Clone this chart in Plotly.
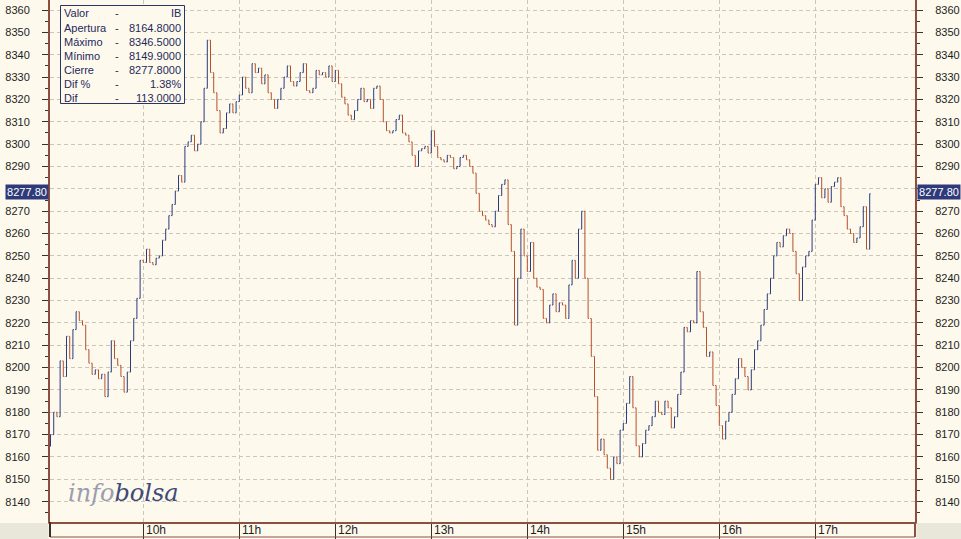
import plotly.graph_objects as go
import pandas as pd

# ---------------- data (2-minute closes) ----------------
first_open = 8164.8
closes_09h = [8170, 8180, 8178, 8203, 8196, 8214, 8204, 8217, 8225, 8221,
              8219, 8208, 8202, 8197, 8199, 8195, 8197, 8187, 8198, 8212,
              8204, 8201, 8196, 8189, 8198, 8212, 8222, 8231, 8248, 8247]
closes_10h = [8253, 8247, 8246, 8249, 8250, 8257, 8262, 8268, 8273, 8279,
              8286, 8283, 8299, 8301, 8304, 8297, 8300, 8310, 8325, 8346.5,
              8332, 8323, 8315, 8305, 8307, 8314, 8318, 8314, 8319, 8322]
closes_11h = [8330, 8325, 8323, 8336, 8332, 8334, 8327, 8331, 8323, 8320,
              8316, 8320, 8325, 8330, 8335, 8328, 8326, 8328, 8332, 8336,
              8324, 8323, 8325, 8333, 8331, 8332, 8330, 8335, 8328, 8333]
closes_12h = [8327, 8321, 8318, 8313, 8311, 8315, 8320, 8325, 8319, 8320,
              8316, 8325, 8326, 8320, 8310, 8306, 8305, 8306, 8311, 8313,
              8305, 8304, 8301, 8295, 8290, 8297, 8298, 8299, 8296, 8306]
closes_13h = [8299, 8294, 8293, 8292, 8295, 8294, 8289, 8290, 8294, 8295,
              8293, 8290, 8287, 8278, 8270, 8268, 8266, 8264, 8263, 8270,
              8277, 8282, 8284, 8264, 8252, 8219, 8240, 8262, 8250, 8243]
closes_14h = [8256, 8240, 8236, 8235, 8222, 8220, 8228, 8233, 8225, 8229,
              8228, 8222, 8237, 8248, 8240, 8262, 8270, 8240, 8222, 8205,
              8187, 8163, 8168, 8161, 8155, 8149.9, 8160, 8157, 8172, 8175]
closes_15h = [8184, 8196, 8182, 8165, 8160, 8166, 8172, 8174, 8178, 8185,
              8180, 8179, 8185, 8182, 8173, 8178, 8188, 8198, 8218, 8216,
              8221, 8220, 8243, 8225, 8218, 8205, 8207, 8192, 8183, 8174]
closes_16h = [8168, 8176, 8180, 8188, 8195, 8204, 8200, 8196, 8190, 8199,
              8208, 8212, 8219, 8226, 8233, 8240, 8250, 8256, 8254, 8259,
              8262, 8260, 8252, 8242, 8230, 8245, 8250, 8252, 8266, 8282]
closes_17h = [8285, 8276, 8280, 8274, 8281, 8283, 8285, 8272, 8268, 8262,
              8260, 8256, 8258, 8263, 8272, 8253, 8277.8]

price_ticks = list(range(8140, 8361, 10))
hour_labels = ["10h", "11h", "12h", "13h", "14h", "15h", "16h", "17h"]
info_labels = ["Valor", "Apertura", "Máximo", "Mínimo", "Cierre", "Dif %", "Dif"]
info_values = ["IB", "8164.8000", "8346.5000", "8149.9000", "8277.8000", "1.38%", "113.0000"]
last_price_label = "8277.80"
hidden_tick = 8280  # covered by the last-price tag in the original

closes = (closes_09h + closes_10h + closes_11h + closes_12h + closes_13h +
          closes_14h + closes_15h + closes_16h + closes_17h)
opens = [first_open] + closes[:-1]
highs = [max(o, c) for o, c in zip(opens, closes)]
lows = [min(o, c) for o, c in zip(opens, closes)]
times = pd.date_range("2024-01-08 09:02", periods=len(closes), freq="2min")
hour_ticks = pd.date_range("2024-01-08 10:00", periods=len(hour_labels), freq="1h")
price_text = ["" if v == hidden_tick else str(v) for v in price_ticks]

# ---------------- styling ----------------
BG = "#FDF9EC"
BROWN = "#8E4F43"
GRID = "#CCC6B8"
NAVY = "#2C3B7E"
RUST = "#B4502C"
TXT = "#1E1E1E"
FONT = "Liberation Sans, Arial, sans-serif"

W, H = 961, 539
L, R, T, B = 50, 46, 0, 17
PW, PH = W - L - R, H - T - B


def px_x(px):
    return (px - L) / PW


def px_y(py):
    return (PH + T - py) / PH


fig = go.Figure()
fig.add_trace(go.Ohlc(
    x=times, open=opens, high=highs, low=lows, close=closes,
    increasing=dict(line=dict(color=NAVY, width=1)),
    decreasing=dict(line=dict(color=RUST, width=1)),
    tickwidth=0.3, showlegend=False, hoverinfo="skip",
))
# invisible trace to carry the right-hand axis
fig.add_trace(go.Scatter(x=[times[0]], y=[8200], yaxis="y2", mode="markers",
                         marker=dict(opacity=0), showlegend=False, hoverinfo="skip"))

yrange = [8130.9, 8364.5]
yaxis_common = dict(
    range=yrange, tickmode="array", tickvals=price_ticks, ticktext=price_text,
    ticks="outside", ticklen=6, tickwidth=1, tickcolor="#333333",
    minor=dict(dtick=5, tick0=8135, ticks="outside", ticklen=3, tickcolor="#333333", showgrid=False),
    showline=True, linecolor=BROWN, linewidth=2,
    tickfont=dict(family=FONT, size=11, color=TXT),
    ticklabelstandoff=10, fixedrange=True, zeroline=False, automargin=False,
)
fig.update_layout(
    width=W, height=H, autosize=False,
    margin=dict(l=L, r=R, t=T, b=B, pad=0),
    paper_bgcolor=BG, plot_bgcolor=BG,
    showlegend=False,
    xaxis=dict(
        range=["2024-01-08 09:01:41", "2024-01-08 18:02:19"],
        rangeslider=dict(visible=False),
        tickmode="array", tickvals=list(hour_ticks), showticklabels=False,
        ticks="outside", ticklen=15, tickwidth=1, tickcolor="#3A2E2A",
        showgrid=True, gridcolor=GRID, gridwidth=1, griddash="4px,3px",
        showline=True, linecolor=BROWN, linewidth=2, zeroline=False, automargin=False,
    ),
    yaxis=dict(side="left", showgrid=True, gridcolor=GRID, gridwidth=1,
               griddash="4px,3px", **yaxis_common),
    yaxis2=dict(side="right", overlaying="y", showgrid=False, **yaxis_common),
)

shapes = []
annotations = []

# bottom band border and corners
shapes.append(dict(type="line", xref="paper", yref="paper", x0=0, x1=1,
                   y0=px_y(537), y1=px_y(537), line=dict(color=BROWN, width=1)))
shapes.append(dict(type="line", xref="paper", yref="paper", x0=0, x1=0,
                   y0=px_y(537), y1=0, line=dict(color="#3A2E2A", width=2)))
shapes.append(dict(type="line", xref="paper", yref="paper", x0=1, x1=1,
                   y0=px_y(537), y1=0, line=dict(color=BROWN, width=2)))
shapes.append(dict(type="rect", xref="paper", yref="paper", x0=px_x(0), x1=px_x(48.5),
                   y0=px_y(539), y1=px_y(523), fillcolor="#E9E7DA", line=dict(width=0)))
shapes.append(dict(type="rect", xref="paper", yref="paper", x0=px_x(916.5), x1=px_x(961),
                   y0=px_y(539), y1=px_y(523), fillcolor="#E9E7DA", line=dict(width=0)))

for t, lab in zip(hour_ticks, hour_labels):
    annotations.append(dict(x=t, y=px_y(530), xref="x", yref="paper", text=lab,
                            showarrow=False, xanchor="left", yanchor="middle", xshift=1,
                            font=dict(family=FONT, size=12, color=TXT)))

# info box
shapes.append(dict(type="rect", xref="paper", yref="paper", x0=px_x(60.5), x1=px_x(184.5),
                   y0=px_y(103.5), y1=px_y(5.5), fillcolor=BG,
                   line=dict(color="#2A3566", width=1)))
for i, (lab, val) in enumerate(zip(info_labels, info_values)):
    yy = px_y(13.5 + 14 * i)
    annotations.append(dict(x=px_x(62), y=yy, xref="paper", yref="paper", text=lab,
                            showarrow=False, xanchor="left", yanchor="middle",
                            font=dict(family=FONT, size=11, color="#1F2A5C")))
    annotations.append(dict(x=px_x(117), y=yy, xref="paper", yref="paper", text="-",
                            showarrow=False, xanchor="center", yanchor="middle",
                            font=dict(family=FONT, size=11, color="#1F2A5C")))
    annotations.append(dict(x=px_x(183), y=yy, xref="paper", yref="paper", text=val,
                            showarrow=False, xanchor="right", yanchor="middle",
                            font=dict(family=FONT, size=11, color="#1F2A5C")))

# last-price tags
for cx in (26.5, 938.5):
    annotations.append(dict(x=px_x(cx), y=px_y(191.5), xref="paper", yref="paper",
                            text=last_price_label, showarrow=False,
                            xanchor="center", yanchor="middle",
                            width=42, height=14, bgcolor="#2E3A7A", borderpad=0,
                            font=dict(family=FONT, size=11, color="#FFFFFF")))

# watermark
annotations.append(dict(
    x=px_x(66), y=px_y(493), xref="paper", yref="paper", showarrow=False,
    xanchor="left", yanchor="middle",
    text="<i><span style='color:#9A9DB2'>info</span></i>"
         "<i><span style='color:#3E4A7A'>bolsa</span></i>",
    font=dict(family="DejaVu Serif, Liberation Serif, serif", size=24)))

fig.update_layout(shapes=shapes, annotations=annotations)
fig.write_html("out.html", config={"displayModeBar": False},
               post_script="document.body.style.margin='0';document.body.style.overflow='hidden';")
